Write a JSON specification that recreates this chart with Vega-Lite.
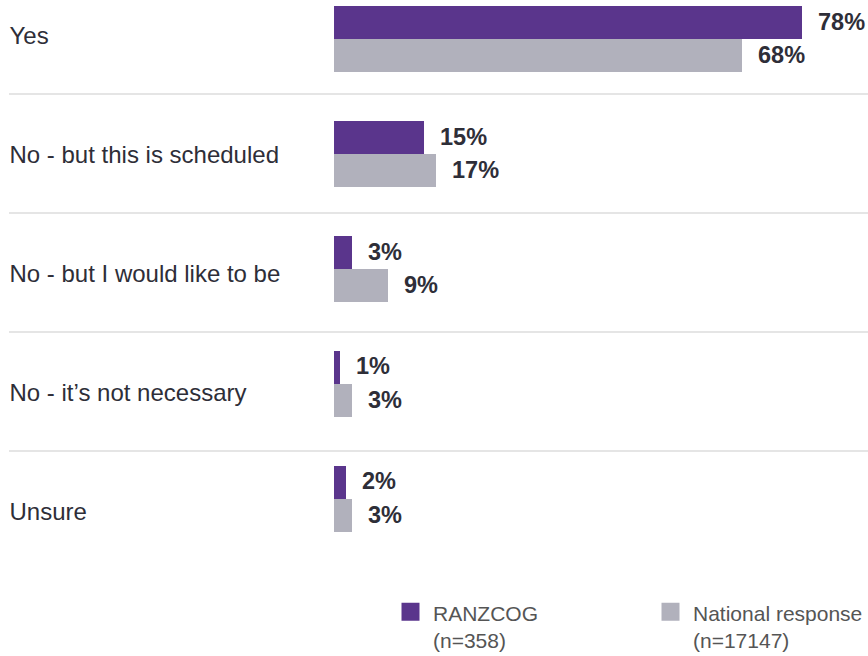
{
  "$schema": "https://vega.github.io/schema/vega-lite/v6.json",
  "width": 859,
  "height": 595,
  "autosize": "none",
  "padding": {"left": 9, "top": 0, "right": 0, "bottom": 61},
  "config": {"view": {"stroke": null}, "font": "Liberation Sans"},
  "layer": [
    {
      "data": {"values": [
        {"cat": "No - but this is scheduled"},
        {"cat": "No - but I would like to be"},
        {"cat": "No - it’s not necessary"},
        {"cat": "Unsure"}
      ]},
      "mark": {"type": "rule", "color": "#dcdcdc", "strokeWidth": 1.5, "yOffset": -25},
      "encoding": {
        "y": {
          "field": "cat", "type": "nominal", "bandPosition": 0,
          "scale": {"domain": ["Yes", "No - but this is scheduled", "No - but I would like to be", "No - it’s not necessary", "Unsure"], "paddingInner": 0, "paddingOuter": 0},
          "axis": {"title": null, "domain": false, "ticks": false, "grid": false, "labelAlign": "left", "labelPadding": 0, "labelOffset": -23, "labelFontSize": 24, "labelColor": "#2e2e38", "labelLimit": 0, "labelBaseline": "middle"}
        }
      }
    },
    {
      "data": {"values": [
        {"cat": "Yes", "group": "RANZCOG", "value": 0.78},
        {"cat": "Yes", "group": "National response", "value": 0.68},
        {"cat": "No - but this is scheduled", "group": "RANZCOG", "value": 0.15},
        {"cat": "No - but this is scheduled", "group": "National response", "value": 0.17},
        {"cat": "No - but I would like to be", "group": "RANZCOG", "value": 0.03},
        {"cat": "No - but I would like to be", "group": "National response", "value": 0.09},
        {"cat": "No - it’s not necessary", "group": "RANZCOG", "value": 0.01},
        {"cat": "No - it’s not necessary", "group": "National response", "value": 0.03},
        {"cat": "Unsure", "group": "RANZCOG", "value": 0.02},
        {"cat": "Unsure", "group": "National response", "value": 0.03}
      ]},
      "encoding": {
        "y": {
          "field": "cat", "type": "nominal", "axis": null,
          "scale": {"domain": ["Yes", "No - but this is scheduled", "No - but I would like to be", "No - it’s not necessary", "Unsure"], "paddingInner": 0.426, "paddingOuter": 0.3, "align": 0.087}
        },
        "yOffset": {
          "field": "group", "type": "nominal",
          "scale": {"domain": ["RANZCOG", "National response"], "paddingInner": 0, "paddingOuter": 0}
        },
        "x": {
          "field": "value", "type": "quantitative", "axis": null,
          "scale": {"domain": [-0.5417, 0.89], "nice": false, "zero": false}
        }
      },
      "layer": [
        {
          "mark": {"type": "bar"},
          "encoding": {
            "color": {
              "field": "group", "type": "nominal",
              "scale": {"domain": ["RANZCOG", "National response"], "range": ["#5a358c", "#b1b1bc"]},
              "legend": {
                "title": null, "orient": "none", "legendX": 391, "legendY": 601,
                "direction": "horizontal", "padding": 0,
                "symbolType": "square", "symbolSize": 324, "symbolStrokeWidth": 0,
                "labelFontSize": 21, "labelColor": "#555555", "labelOffset": 12,
                "labelLimit": 0, "labelBaseline": "top",
                "columnPadding": 122,
                "labelExpr": "datum.label == 'RANZCOG' ? ['RANZCOG', '(n=358)'] : ['National response', ' (n=17147)']",
                "encode": {"labels": {"update": {"dy": {"value": -8}, "lineHeight": {"value": 27}}}}
              }
            }
          }
        },
        {
          "mark": {"type": "text", "align": "left", "baseline": "middle", "dx": 16, "fontSize": 23.5, "fontWeight": "bold", "color": "#2e2e38"},
          "encoding": {
            "text": {"field": "value", "type": "quantitative", "format": ".0%"}
          }
        }
      ]
    }
  ],
  "resolve": {"scale": {"y": "independent"}}
}
